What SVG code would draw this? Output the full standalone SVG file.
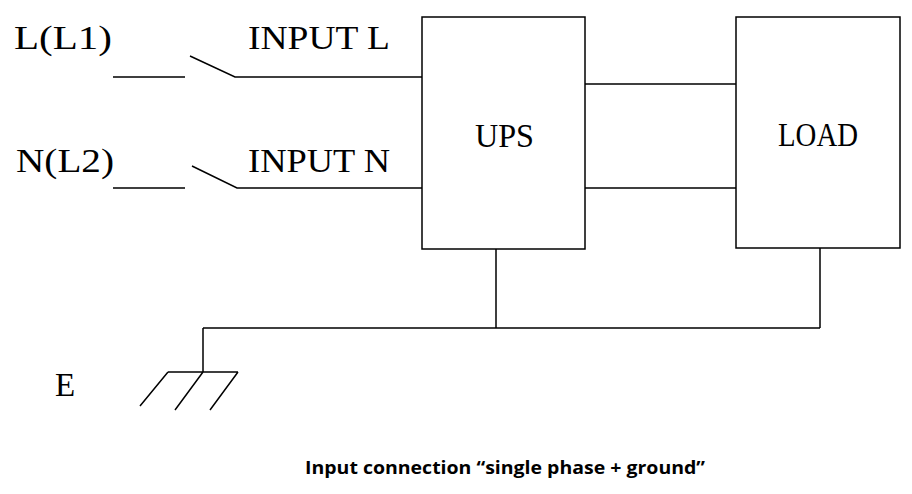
<svg xmlns="http://www.w3.org/2000/svg" width="912" height="494" viewBox="0 0 912 494">
<style>
.w{stroke:#000;stroke-width:1.5;fill:none}
.t{font-family:"Liberation Serif",serif;font-size:33px;fill:#000}
</style>
<rect width="912" height="494" fill="#fff"/>
<g id="connectors">
<path class="w" d="M113 77H185M190 56L235 77H422M113 188H185M192 166L237 188H422M585 84H736M585 188H736M496 249V328M820 248V328M203 328H820M203 328V372M168 372H238M168 372L140 406M203 372L175 410M238 372L210 410"/>
</g>
<g id="ups"><rect class="w" x="422" y="17" width="163" height="232"/><text class="t" x="475" y="147" textLength="59" lengthAdjust="spacingAndGlyphs">UPS</text></g>
<g id="load"><rect class="w" x="736" y="17" width="164" height="231"/><text class="t" x="778" y="146" textLength="80" lengthAdjust="spacingAndGlyphs">LOAD</text></g>
<g id="labels">
<text class="t" x="14" y="49" textLength="98" lengthAdjust="spacingAndGlyphs">L(L1)</text>
<text class="t" x="248" y="49" textLength="142" lengthAdjust="spacingAndGlyphs">INPUT L</text>
<text class="t" x="16" y="172" textLength="98" lengthAdjust="spacingAndGlyphs">N(L2)</text>
<text class="t" x="248" y="172" textLength="142" lengthAdjust="spacingAndGlyphs">INPUT N</text>
<text class="t" x="55" y="396">E</text>
<text x="305" y="474" textLength="400" lengthAdjust="spacingAndGlyphs" font-family="'Open Sans',sans-serif" font-weight="bold" font-size="18">Input connection “single phase + ground”</text>
</g>
</svg>
